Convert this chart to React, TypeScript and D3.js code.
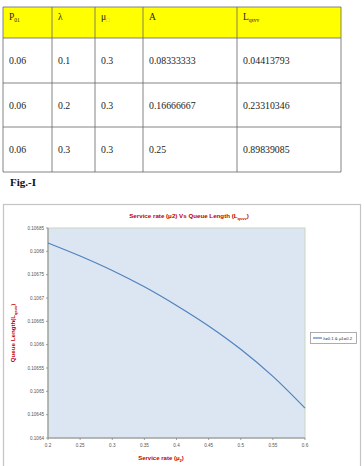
import React from "react";
import * as d3 from "d3";

const tableHeaders = ["P", "λ", "μ", "A", "L"];
const tableHeaderSubs = ["01", "", "□", "", "qsvv"];
const colP01 = ["0.06", "0.06", "0.06"];
const colLambda = ["0.1", "0.2", "0.3"];
const colMu = ["0.3", "0.3", "0.3"];
const colA = ["0.08333333", "0.16666667", "0.25"];
const colLqsvv = ["0.04413793", "0.23310346", "0.89839085"];

const serviceRate = [0.2, 0.25, 0.3, 0.35, 0.4, 0.45, 0.5, 0.55, 0.6];
const queueLength = [0.106818, 0.10679, 0.106759, 0.106724, 0.106684, 0.10664, 0.10659, 0.106532, 0.106464];
const xTickLabels = ["0.2", "0.25", "0.3", "0.35", "0.4", "0.45", "0.5", "0.55", "0.6"];
const yTickValues = [0.1064, 0.10645, 0.1065, 0.10655, 0.1066, 0.10665, 0.1067, 0.10675, 0.1068, 0.10685];
const yTickLabels = ["0.1064", "0.10645", "0.1065", "0.10655", "0.1066", "0.10665", "0.1067", "0.10675", "0.1068", "0.10685"];
const legendLabel = "λ=0.1 & μ1=0.2";

export default function App() {
  const colX = [3, 52, 95, 143, 237, 341];
  const rowY = [7, 38, 83, 127, 172];
  const columns = [colP01, colLambda, colMu, colA, colLqsvv];

  const x = d3.scaleLinear().domain([0.2, 0.6]).range([48, 305]);
  const y = d3.scaleLinear().domain([0.1064, 0.10685]).range([438, 228]);
  const line = d3
    .line<number>()
    .x((_, i) => x(serviceRate[i]))
    .y((d) => y(d))
    .curve(d3.curveCatmullRom);

  const serif = "'Liberation Serif', 'Times New Roman', serif";
  const sans = "'Liberation Sans', Arial, sans-serif";
  const red = "#c00000";

  return (
    <svg
      width={364}
      height={466}
      style={{ position: "absolute", left: 0, top: 0, background: "#fff" }}
    >
      {/* table */}
      <rect x={colX[0]} y={rowY[0]} width={colX[5] - colX[0]} height={rowY[1] - rowY[0]} fill="#ffff00" />
      {rowY.map((ry, i) => (
        <line key={"h" + i} x1={colX[0]} x2={colX[5]} y1={ry} y2={ry} stroke="#666" strokeWidth={0.8} />
      ))}
      {colX.map((cx, i) => (
        <line key={"v" + i} x1={cx} x2={cx} y1={rowY[0]} y2={rowY[4]} stroke="#666" strokeWidth={0.8} />
      ))}
      {tableHeaders.map((h, i) => (
        <text key={"th" + i} x={colX[i] + 6} y={20} fontFamily={serif} fontSize={9.5} fill="#222">
          {h}
          {tableHeaderSubs[i] && (
            <tspan fontSize={5.5} dy={2} fill={tableHeaderSubs[i] === "□" ? "#aaa" : "#222"}>
              {tableHeaderSubs[i]}
            </tspan>
          )}
        </text>
      ))}
      {columns.map((col, ci) =>
        col.map((v, ri) => (
          <text
            key={"c" + ci + "-" + ri}
            x={colX[ci] + 6}
            y={(rowY[ri + 1] + rowY[ri + 2]) / 2 + 3.5}
            fontFamily={serif}
            fontSize={9.8}
            fill="#222"
          >
            {v}
          </text>
        ))
      )}
      <text x={10} y={186} fontFamily={serif} fontSize={11} fontWeight="bold" fill="#111">
        Fig.-I
      </text>

      {/* chart frame */}
      <rect x={3.5} y={204.5} width={357} height={270} fill="#fff" stroke="#c4c4c4" strokeWidth={1.2} />
      <rect x={x(0.2)} y={y(0.10685)} width={x(0.6) - x(0.2)} height={y(0.1064) - y(0.10685)} fill="#dce6f2" stroke="#c9d6bd" strokeWidth={1} />

      {/* title */}
      <text x={189} y={218} textAnchor="middle" fontFamily={sans} fontSize={6.2} fontWeight="bold" fill={red}>
        Service rate (μ2) Vs Queue Length (L
        <tspan fontSize={4} dy={1.5}>qsvv</tspan>
        <tspan dy={-1.5}>)</tspan>
      </text>

      {/* y axis */}
      <line x1={x(0.2)} x2={x(0.2)} y1={y(0.10685)} y2={y(0.1064)} stroke="#8a8a8a" strokeWidth={1} />
      {yTickValues.map((v, i) => (
        <g key={"yt" + i}>
          <line x1={x(0.2) - 2} x2={x(0.2)} y1={y(v)} y2={y(v)} stroke="#8a8a8a" strokeWidth={0.8} />
          <text x={x(0.2) - 4} y={y(v) + 1.6} textAnchor="end" fontFamily={sans} fontSize={4.6} fill="#555">
            {yTickLabels[i]}
          </text>
        </g>
      ))}
      <text
        transform={`translate(15, 333) rotate(-90)`}
        textAnchor="middle"
        fontFamily={sans}
        fontSize={6.2}
        fontWeight="bold"
        fill={red}
      >
        Queue Length(L
        <tspan fontSize={4} dy={1.5}>qsvv</tspan>
        <tspan dy={-1.5}>)</tspan>
      </text>

      {/* x axis */}
      <line x1={x(0.2)} x2={x(0.6)} y1={y(0.1064)} y2={y(0.1064)} stroke="#8a8a8a" strokeWidth={1} />
      {serviceRate.map((v, i) => (
        <g key={"xt" + i}>
          <line x1={x(v)} x2={x(v)} y1={y(0.1064)} y2={y(0.1064) + 2} stroke="#8a8a8a" strokeWidth={0.8} />
          <text x={x(v)} y={447} textAnchor="middle" fontFamily={sans} fontSize={4.6} fill="#555">
            {xTickLabels[i]}
          </text>
        </g>
      ))}
      <text x={161} y={460} textAnchor="middle" fontFamily={sans} fontSize={6} fontWeight="bold" fill={red}>
        Service rate (μ
        <tspan fontSize={4} dy={1.5}>2</tspan>
        <tspan dy={-1.5}>)</tspan>
      </text>

      {/* series */}
      <path d={line(queueLength) || ""} fill="none" stroke="#4f81bd" strokeWidth={1.2} />

      {/* legend */}
      <rect x={310.5} y={332.5} width={46} height={11} fill="#fff" stroke="#999" strokeWidth={0.8} />
      <line x1={313} x2={322} y1={338} y2={338} stroke="#4f81bd" strokeWidth={1.2} />
      <text x={323} y={339.6} fontFamily={sans} fontSize={4.3} fill="#333">
        {legendLabel}
      </text>
    </svg>
  );
}
